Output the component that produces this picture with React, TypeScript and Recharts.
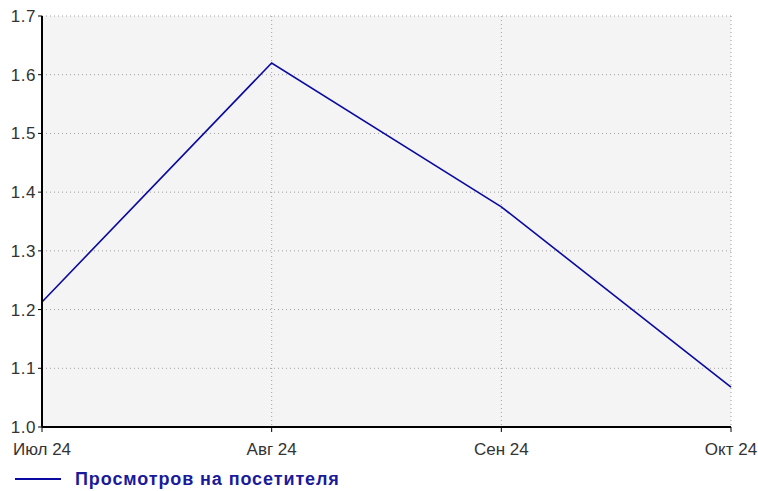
import { CartesianGrid, Legend, Line, LineChart, XAxis, YAxis } from 'recharts';

const months = ['Июл 24', 'Авг 24', 'Сен 24', 'Окт 24'];
const viewsPerVisitor = [1.213, 1.62, 1.375, 1.068];
const yTicks = [1.0, 1.1, 1.2, 1.3, 1.4, 1.5, 1.6, 1.7];

const data = months.map((m, i) => ({ mes: m, views: viewsPerVisitor[i] }));

const LINE_COLOR = '#0a0aa0';
const FONT = '"Liberation Sans", Arial, sans-serif';

function LegendBox() {
  return (
    <div style={{ display: 'flex', alignItems: 'center', fontFamily: FONT, height: 24 }}>
      <div style={{ width: 46, height: 2, background: LINE_COLOR, marginLeft: 15, marginRight: 14 }} />
      <span style={{ color: '#1a1a9a', fontWeight: 'bold', fontSize: 18, letterSpacing: 0.9 }}>
        Просмотров на посетителя
      </span>
    </div>
  );
}

export default function App() {
  return (
    <div style={{ position: 'absolute', left: 0, top: 0 }}>
      <LineChart
        width={758}
        height={491}
        data={data}
        margin={{ top: 16, right: 27, left: 0, bottom: 0 }}
        style={{ fontFamily: FONT }}
      >
        <CartesianGrid stroke="#a0a0a0" strokeDasharray="1 3" fill="#f4f4f4" />
        <XAxis
          dataKey="mes"
          height={40}
          tickSize={5}
          tickMargin={11}
          stroke="#000"
          strokeWidth={2}
          tick={{ fill: '#333', fontSize: 17 }}
          tickLine={{ stroke: '#000', strokeWidth: 1 }}
          interval={0}
        />
        <YAxis
          width={42}
          domain={[1.0, 1.7]}
          ticks={yTicks}
          tickSize={4}
          stroke="#000"
          strokeWidth={2}
          tick={{ fill: '#333', fontSize: 17, letterSpacing: 0.5 }}
          tickLine={{ stroke: '#000', strokeWidth: 1 }}
          tickFormatter={(v: number) => v.toFixed(1)}
        />
        <Legend verticalAlign="bottom" align="left" height={24} content={() => <LegendBox />} />
        <Line
          type="linear"
          dataKey="views"
          stroke={LINE_COLOR}
          strokeWidth={1.6}
          dot={false}
          activeDot={false}
          isAnimationActive={false}
        />
      </LineChart>
    </div>
  );
}
